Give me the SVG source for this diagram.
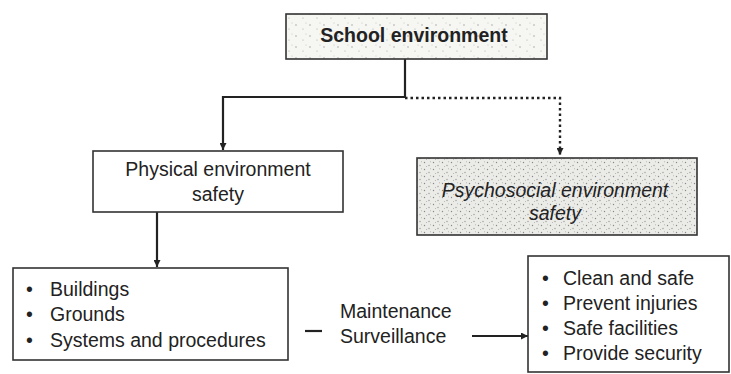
<svg xmlns="http://www.w3.org/2000/svg" width="731" height="374" viewBox="0 0 731 374">
<defs>
<pattern id="dotsLight" width="14" height="11" patternUnits="userSpaceOnUse">
<rect width="14" height="11" fill="#f6f6f3"/>
<circle cx="2" cy="3" r="0.7" fill="#999"/>
<circle cx="9" cy="7" r="0.6" fill="#aaa"/>
<circle cx="12" cy="1" r="0.5" fill="#bbb"/>
</pattern>
<pattern id="dotsDense" width="9" height="7" patternUnits="userSpaceOnUse">
<rect width="9" height="7" fill="#ebebe8"/>
<circle cx="1.5" cy="1.5" r="0.7" fill="#888"/>
<circle cx="6" cy="4.5" r="0.7" fill="#999"/>
<circle cx="3.5" cy="5.5" r="0.5" fill="#aaa"/>
<circle cx="7.5" cy="0.8" r="0.5" fill="#aaa"/>
</pattern>
<marker id="arr" viewBox="0 0 10 10" refX="10" refY="5" markerWidth="7" markerHeight="7" markerUnits="userSpaceOnUse" orient="auto">
<path d="M0,0 L10,5 L0,10 z" fill="#222"/>
</marker>
</defs>
<style>
.box{stroke:#333;stroke-width:1.6}
.t{font-family:"Liberation Sans",Arial,sans-serif;font-size:19.5px;fill:#222}
.c{stroke:#222;stroke-width:2.2;fill:none}
.d{stroke:#222;stroke-width:2.4;fill:none;stroke-dasharray:2.5 3}
</style>
<rect width="731" height="374" fill="#fff"/>
<g id="connectors">
<polyline class="c" points="405,59 405,97 223,97 223,150" marker-end="url(#arr)"/>
<polyline class="d" points="405,98 560,98 560,155" marker-end="url(#arr)"/>
<line class="c" x1="157" y1="212" x2="157" y2="267" marker-end="url(#arr)"/>
<line class="c" x1="305" y1="331" x2="322" y2="331"/>
<line class="c" x1="472" y1="336" x2="528" y2="336" stroke-width="1.6" marker-end="url(#arr)"/>
</g>
<g id="school">
<rect class="box" x="286" y="14" width="261" height="45" fill="url(#dotsLight)"/>
<text class="t" x="414" y="42" text-anchor="middle" font-weight="bold">School environment</text>
</g>
<g id="physical">
<rect class="box" x="93" y="151" width="250" height="61" fill="#fff"/>
<text class="t" x="218" y="176" text-anchor="middle">Physical environment</text>
<text class="t" x="218" y="201" text-anchor="middle">safety</text>
</g>
<g id="psychosocial">
<rect class="box" x="417" y="158" width="280" height="77" fill="url(#dotsDense)"/>
<text class="t" x="555" y="197" text-anchor="middle" font-style="italic">Psychosocial environment</text>
<text class="t" x="555" y="220" text-anchor="middle" font-style="italic">safety</text>
</g>
<g id="physical-items">
<rect class="box" x="13" y="268" width="275" height="92" fill="#fff"/>
<text class="t" x="26" y="296">•</text><text class="t" x="50" y="296">Buildings</text>
<text class="t" x="26" y="321">•</text><text class="t" x="50" y="321">Grounds</text>
<text class="t" x="26" y="347">•</text><text class="t" x="50" y="347">Systems and procedures</text>
</g>
<g id="methods">
<text class="t" x="340" y="318">Maintenance</text>
<text class="t" x="340" y="343">Surveillance</text>
</g>
<g id="outcomes">
<rect class="box" x="528" y="256" width="201" height="116" fill="#fff"/>
<text class="t" x="542" y="285">•</text><text class="t" x="563" y="285">Clean and safe</text>
<text class="t" x="542" y="310">•</text><text class="t" x="563" y="310">Prevent injuries</text>
<text class="t" x="542" y="335">•</text><text class="t" x="563" y="335">Safe facilities</text>
<text class="t" x="542" y="360">•</text><text class="t" x="563" y="360">Provide security</text>
</g>
</svg>
